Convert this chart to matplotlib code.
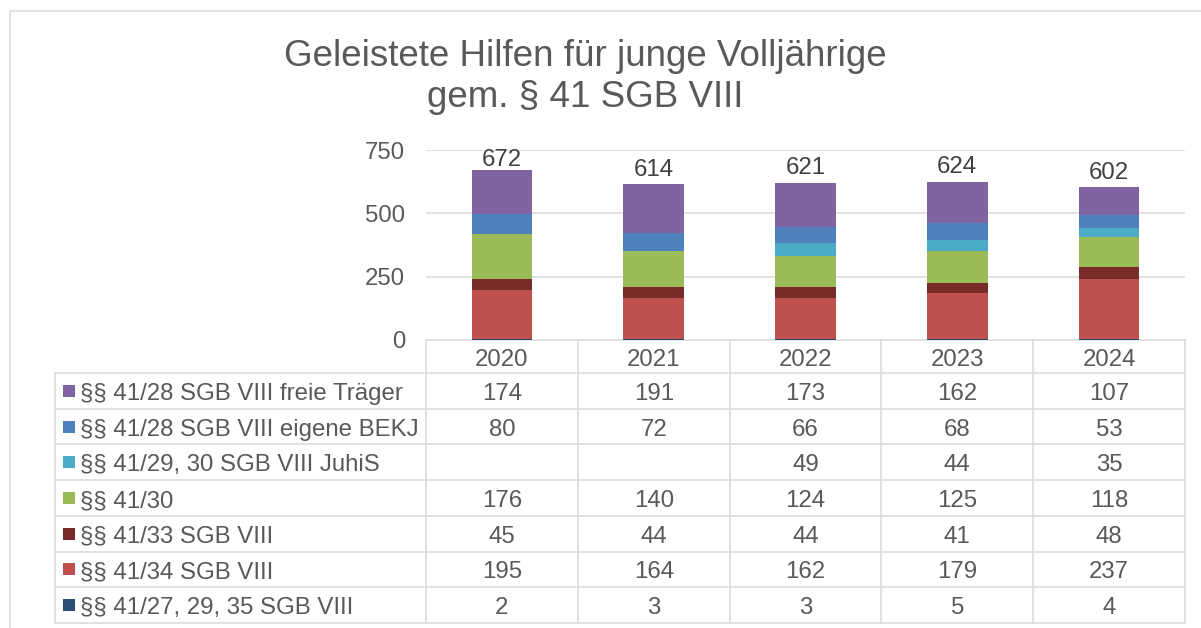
import numpy as np
import matplotlib
matplotlib.use('Agg')
import matplotlib.pyplot as plt

plt.rcParams['font.family'] = ['Liberation Sans', 'DejaVu Sans']

# data
years = ['2020', '2021', '2022', '2023', '2024']
freie_traeger = [174, 191, 173, 162, 107]
eigene_bekj = [80, 72, 66, 68, 53]
juhis = [np.nan, np.nan, 49, 44, 35]
p41_30 = [176, 140, 124, 125, 118]
p41_33 = [45, 44, 44, 41, 48]
p41_34 = [195, 164, 162, 179, 237]
p41_27 = [2, 3, 3, 5, 4]

# table order (top to bottom)
names = ['§§ 41/28 SGB VIII freie Träger',
         '§§ 41/28 SGB VIII eigene BEKJ',
         '§§ 41/29, 30 SGB VIII JuhiS',
         '§§ 41/30',
         '§§ 41/33 SGB VIII',
         '§§ 41/34 SGB VIII',
         '§§ 41/27, 29, 35 SGB VIII']
values = [freie_traeger, eigene_bekj, juhis, p41_30, p41_33, p41_34, p41_27]
colors = ['#8064A2', '#4F81BD', '#4BACC6', '#9BBB59', '#772C2A', '#C0504D', '#2C4D75']

txt = '#595959'
grid = '#D9D9D9'
W, H = 1201, 628

fig = plt.figure(figsize=(W / 100, H / 100), dpi=100)

# overlay in pixel coordinates for border, title and data table
ov = fig.add_axes([0, 0, 1, 1])
ov.set_xlim(0, W)
ov.set_ylim(H, 0)
ov.axis('off')

# plot area
x0, x1 = 426, 1185
y_top, y_zero = 150, 340
ax = fig.add_axes([x0 / W, 1 - y_zero / H, (x1 - x0) / W, (y_zero - y_top) / H])
ax.set_xlim(-0.5, len(years) - 0.5)
ax.set_ylim(0, 750)
ax.set_yticks([0, 250, 500, 750])
ax.set_xticks([])
ax.yaxis.grid(True, color=grid, linewidth=1.1)
ax.set_axisbelow(True)
for s in ax.spines.values():
    s.set_visible(False)
ax.tick_params(axis='y', length=0, pad=15, labelsize=17.3, labelcolor=txt)

x = np.arange(len(years))
bottom = np.zeros(len(years))
for vals, c in zip(values[::-1], colors[::-1]):
    v = np.nan_to_num(np.array(vals, dtype=float))
    ax.bar(x, v, 0.4, bottom=bottom, color=c, linewidth=0)
    bottom += v

for xi, tot in zip(x, bottom):
    ax.text(xi, min(tot + 58, 712), f'{int(tot)}', ha='center', va='center',
            fontsize=17.3, color='#404040', clip_on=False)

# outer chart border
ov.plot([10, 10, W + 5], [H + 5, 11, 11], color=grid, lw=1.1)

# title
ov.text(585, 77, 'Geleistete Hilfen für junge Volljährige\ngem. § 41 SGB VIII',
        ha='center', va='center', fontsize=26.5, color=txt, linespacing=1.25)

# data table
col_w = (x1 - x0) / len(years)
row_top = 373
row_h = (623 - row_top) / len(names)
lw = 1.1
dy = 3  # text offset inside cells
ov.plot([x0, x1], [y_zero, y_zero], color=grid, lw=lw)
for i in range(len(names) + 1):
    yy = row_top + i * row_h
    ov.plot([55, x1], [yy, yy], color=grid, lw=lw)
ov.plot([55, 55], [row_top, 623], color=grid, lw=lw)
for j in range(len(years) + 1):
    xx = x0 + j * col_w
    ov.plot([xx, xx], [y_zero, 623], color=grid, lw=lw)

for j, yr in enumerate(years):
    ov.text(x0 + (j + 0.5) * col_w, (y_zero + row_top) / 2 + dy, yr, ha='center',
            va='center', fontsize=17.3, color=txt)

for i, (nm, vals, c) in enumerate(zip(names, values, colors)):
    yc = row_top + (i + 0.5) * row_h
    ov.add_patch(plt.Rectangle((63, yc - 6), 12, 12, color=c, lw=0))
    ov.text(80, yc + dy, nm, ha='left', va='center', fontsize=17.3, color=txt)
    for j, v in enumerate(vals):
        if not np.isnan(v):
            ov.text(x0 + (j + 0.5) * col_w, yc + dy, f'{int(v)}', ha='center',
                    va='center', fontsize=17.3, color=txt)

fig.savefig('out.png', dpi=100)
